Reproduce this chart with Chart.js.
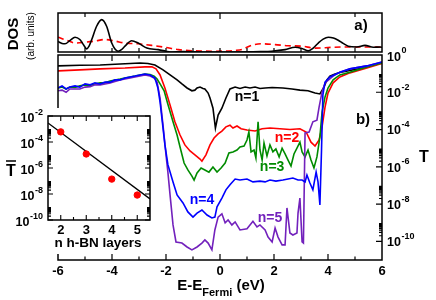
<!DOCTYPE html>
<html>
<head>
<meta charset="utf-8">
<script src="https://cdn.jsdelivr.net/npm/chart.js"></script>
<style>
html,body{margin:0;padding:0;background:#fff;overflow:hidden;}
#wrap{position:relative;width:436px;height:300px;background:#fff;}
canvas{position:absolute;left:0;}
</style>
</head>
<body>
<div id="wrap">
<canvas id="mainC" width="436" height="300" style="top:0"></canvas>
<canvas id="dosC" width="436" height="66" style="top:0"></canvas>
<canvas id="insetC" width="156" height="146" style="top:108px;background:#fff"></canvas>
</div>
<script>
// ---------- DATA ----------
// panel a) DOS (arb. units)
const dosTotE = [-6.00,-5.85,-5.74,-5.55,-5.37,-5.19,-5.05,-4.94,-4.85,-4.75,-4.57,-4.38,-4.20,-4.01,-3.89,-3.77,-3.65,-3.52,-3.27,-3.03,-2.71,-2.29,-2.00,-1.85,-1.37,-0.50,0.50,1.50,1.91,2.41,2.78,3.03,3.27,3.45,3.64,3.82,4.01,4.20,4.38,4.56,4.75,5.06,5.37,5.68,5.93,6.00];
const dosTot  = [0.27,0.22,0.21,0.30,0.38,0.32,0.18,0.08,0.15,0.32,0.66,0.83,0.66,0.23,0.08,0.02,0.06,0.15,0.29,0.23,0.10,0.06,0.02,0.00,0.01,0.00,0.00,0.01,0.02,0.06,0.12,0.09,0.03,0.10,0.23,0.33,0.38,0.36,0.30,0.22,0.15,0.13,0.17,0.12,0.13,0.12];
const dosBNE  = [-6.00,-5.80,-5.60,-5.37,-5.00,-4.63,-4.26,-3.89,-3.52,-3.03,-2.53,-2.04,-1.54,-0.93,-0.19,0.56,0.85,1.00,1.17,1.54,2.04,2.53,3.03,3.52,4.14,4.75,5.37,6.00];
const dosBN   = [0.38,0.33,0.28,0.23,0.25,0.28,0.32,0.28,0.23,0.21,0.17,0.12,0.06,0.03,0.02,0.04,0.07,0.12,0.17,0.21,0.19,0.16,0.15,0.10,0.12,0.13,0.13,0.12];

// panel b) transmission T(E)
const n1E = [-6.00,-5.19,-4.44,-3.70,-2.96,-2.67,-2.41,-2.11,-1.85,-1.59,-1.41,-1.22,-1.04,-0.93,-0.85,-0.74,-0.63,-0.56,-0.44,-0.37,-0.26,-0.17,-0.07,0.07,0.22,0.37,0.56,0.74,0.93,1.11,1.30,1.48,1.67,1.93,2.33,2.67,2.96,3.26,3.52,3.70,3.85,3.96,4.07,4.26,4.44,4.81,5.19,5.56,6.00];
const n1T = [2.6e-1,2.8e-1,2.9e-1,3.3e-1,3.7e-1,3.5e-1,2.9e-1,1.6e-1,8.5e-2,4.6e-2,2.8e-2,1.7e-2,1.2e-2,1.3e-2,1.7e-2,1.9e-2,1.6e-2,1.5e-2,9.1e-3,4.9e-3,1.4e-3,1.2e-4,6.0e-4,1.4e-3,4.9e-3,1.5e-2,1.9e-2,1.6e-2,1.9e-2,1.7e-2,1.9e-2,1.6e-2,1.7e-2,1.8e-2,1.7e-2,1.5e-2,1.3e-2,1.2e-2,9.1e-3,8.1e-3,1.9e-2,4.6e-2,7.4e-2,9.5e-2,1.15e-1,1.5e-1,1.9e-1,2.6e-1,3.7e-1];

const n2E = [-6.00,-5.19,-4.44,-3.52,-2.78,-2.52,-2.37,-2.22,-2.04,-1.85,-1.67,-1.48,-1.30,-1.11,-0.93,-0.74,-0.67,-0.52,-0.37,-0.22,-0.07,0.07,0.22,0.37,0.48,0.63,0.78,1.00,1.30,1.56,1.85,2.22,2.59,2.96,3.19,3.37,3.52,3.67,3.78,3.89,4.00,4.19,4.44,4.81,5.44,6.00];
const n2T = [1.4e-1,1.6e-1,1.8e-1,2.0e-1,2.3e-1,2.3e-1,1.8e-1,8.5e-2,1.7e-2,2.1e-3,2.6e-4,5.1e-5,1.5e-5,7.1e-6,4.4e-6,2.6e-6,2.0e-6,4.4e-6,1.5e-5,3.5e-5,5.8e-5,8.3e-5,1.4e-4,1.7e-4,1.2e-4,1.55e-4,1.1e-4,9.5e-5,8.3e-5,1.1e-4,1.2e-4,1.1e-4,1.0e-4,1.1e-4,7.4e-5,2.1e-5,1.3e-5,2.75e-5,1.4e-4,1.6e-3,9.1e-3,3.2e-2,6.6e-2,1.1e-1,2.0e-1,3.5e-1];

const n3E = [-6.00,-5.85,-5.70,-5.56,-5.37,-5.19,-5.00,-4.81,-4.63,-4.44,-4.26,-4.07,-3.89,-3.70,-3.52,-3.33,-3.15,-2.96,-2.78,-2.59,-2.44,-2.33,-2.22,-2.07,-1.93,-1.74,-1.59,-1.48,-1.33,-1.19,-1.04,-0.96,-0.85,-0.70,-0.56,-0.41,-0.26,-0.11,0.04,0.19,0.33,0.48,0.63,0.74,0.89,1.00,1.07,1.15,1.26,1.33,1.41,1.48,1.56,1.63,1.74,1.85,1.96,2.07,2.19,2.30,2.41,2.52,2.63,2.74,2.85,2.96,3.04,3.15,3.26,3.37,3.48,3.59,3.70,3.78,3.89,4.00,4.19,4.44,4.81,5.44,6.00];
const n3T = [1.7e-2,1.9e-2,1.5e-2,1.9e-2,1.8e-2,2.2e-2,2.5e-2,2.3e-2,2.8e-2,3.2e-2,3.2e-2,4.0e-2,4.6e-2,5.1e-2,5.8e-2,6.6e-2,7.4e-2,8.5e-2,9.5e-2,9.0e-2,7.4e-2,5.1e-2,2.8e-2,1.2e-2,2.3e-3,2.6e-4,5.1e-5,1.15e-5,1.6e-6,6.8e-7,3.2e-7,1.95e-7,4.7e-7,8.7e-7,6.8e-7,5.2e-7,9.8e-7,5.2e-7,8.7e-7,1.6e-6,5.5e-6,6.3e-6,8.0e-6,1.15e-5,1.3e-5,2.75e-5,7.4e-5,6.3e-6,8.0e-6,3.0e-6,2.6e-4,8.0e-6,2.3e-6,1.9e-5,3.8e-6,1.5e-5,6.3e-6,9.1e-6,3.4e-6,1.0e-5,4.9e-6,2.3e-6,1.1e-6,4.9e-6,1.0e-5,2.1e-5,6.3e-6,3.4e-6,8.0e-6,2.3e-6,8.7e-7,3.4e-6,4.0e-5,8.7e-4,5.6e-3,1.7e-2,4.6e-2,8.5e-2,1.2e-1,2.3e-1,3.7e-1];

const n4E = [-6.00,-5.85,-5.70,-5.56,-5.37,-5.19,-5.00,-4.81,-4.63,-4.44,-4.26,-4.07,-3.89,-3.70,-3.52,-3.33,-3.15,-2.96,-2.78,-2.59,-2.41,-2.30,-2.22,-2.11,-2.04,-1.93,-1.74,-1.59,-1.37,-1.19,-1.00,-0.85,-0.67,-0.48,-0.30,-0.19,-0.11,0.07,0.22,0.37,0.56,0.74,1.00,1.22,1.48,1.67,1.85,2.07,2.33,2.52,2.70,2.89,3.04,3.15,3.22,3.33,3.44,3.56,3.63,3.70,3.76,3.81,3.89,4.07,4.44,4.81,5.44,6.00];
const n4T = [1.7e-2,2.2e-2,1.5e-2,1.9e-2,2.2e-2,1.9e-2,2.8e-2,2.5e-2,3.2e-2,2.8e-2,3.5e-2,3.5e-2,4.6e-2,4.6e-2,5.8e-2,6.6e-2,7.4e-2,8.5e-2,9.5e-2,8.5e-2,5.8e-2,1.7e-2,3.0e-3,1.2e-4,1.5e-5,1.3e-6,1.55e-7,3.1e-8,1.15e-8,3.8e-9,2.0e-9,3.3e-9,4.8e-9,2.6e-9,1.8e-9,2.0e-9,7.1e-9,2.1e-8,5.8e-8,1.1e-7,2.2e-7,1.95e-7,2.2e-7,1.55e-7,1.7e-7,1.55e-7,1.95e-7,1.7e-7,1.95e-7,2.2e-7,2.5e-7,1.95e-7,1.95e-7,1.55e-7,3.6e-7,1.35e-7,5.8e-8,5.2e-7,1.55e-7,8.9e-9,8.0e-6,7.1e-3,3.5e-2,6.6e-2,1.2e-1,1.8e-1,2.6e-1,4.2e-1];

const n5E = [-6.00,-5.85,-5.70,-5.56,-5.37,-5.19,-5.00,-4.81,-4.63,-4.44,-4.26,-4.07,-3.89,-3.70,-3.52,-3.33,-3.15,-2.96,-2.78,-2.59,-2.44,-2.33,-2.22,-2.11,-2.00,-1.93,-1.85,-1.74,-1.63,-1.41,-1.22,-1.04,-0.85,-0.67,-0.56,-0.44,-0.30,-0.19,-0.07,0.07,0.19,0.30,0.44,0.56,0.74,1.00,1.22,1.37,1.48,1.67,1.78,1.93,2.04,2.15,2.30,2.41,2.48,2.59,2.70,2.85,2.89,2.96,3.04,3.09,3.15,3.30,3.44,3.59,3.67,3.78,3.89,4.19,4.44,4.81,5.44,6.00];
const n5T = [1.2e-2,1.3e-2,1.0e-2,1.5e-2,1.5e-2,1.5e-2,1.9e-2,2.0e-2,2.5e-2,2.5e-2,2.8e-2,3.2e-2,3.8e-2,4.6e-2,5.1e-2,5.8e-2,6.6e-2,7.4e-2,8.5e-2,7.4e-2,5.8e-2,3.5e-2,4.9e-3,1.7e-4,4.4e-6,5.2e-7,3.1e-8,7.6e-10,9.3e-11,8.1e-11,5.0e-11,3.5e-11,5.0e-11,8.1e-11,1.2e-10,8.1e-11,3.5e-11,4.1e-10,2.0e-9,3.0e-9,9.8e-10,1.4e-9,7.6e-10,1.1e-9,4.1e-10,4.7e-10,1.2e-9,5.9e-10,7.6e-10,4.1e-10,1.7e-10,9.3e-11,5.2e-10,1.7e-10,6.5e-11,6.5e-11,6.2e-9,2.8e-10,2.2e-10,2.8e-10,3.3e-9,2.1e-8,9.3e-11,8.1e-11,6.6e-5,7.4e-5,2.6e-4,3.2e-4,1.6e-3,1.05e-2,3.2e-2,7.4e-2,1.2e-1,1.8e-1,2.6e-1,4.2e-1];

// inset: mean transmission vs number of h-BN layers
const nLayers = [2, 3, 4, 5];
const meanT   = [6.0e-4, 1.2e-5, 1.4e-7, 8.3e-9];
const fitN    = [1.5, 5.5];
const fitT    = [2.9e-3, 4.2e-9];

// tick labels
const xTickLabels   = [-6, -4, -2, 0, 2, 4, 6];
const tTickExps     = [0, -2, -4, -6, -8, -10];
const insetXLabels  = [2, 3, 4, 5];
const insetTExps    = [-2, -4, -6, -8, -10];

// curve labels (in data coordinates)
const curveLabels = [
  {text: 'n=1', E: 1.0,  T: 5.6e-3, color: '#000000'},
  {text: 'n=2', E: 2.48, T: 3.5e-5, color: '#ff0000'},
  {text: 'n=3', E: 1.93, T: 9.8e-7, color: '#008b00'},
  {text: 'n=4', E: -0.67, T: 1.7e-8, color: '#0000ff'},
  {text: 'n=5', E: 1.85, T: 1.8e-9, color: '#7221bc'}
];

// ---------- DRAWING ----------
const F = '"Liberation Sans", Arial, Helvetica, sans-serif';
const pts = (xs, ys) => xs.map((x, i) => ({x: x, y: ys[i]}));

function pow10(ctx, x, y, exp, base, sup, align) {
  const es = String(exp);
  ctx.font = 'bold ' + base + 'px ' + F;
  const w1 = ctx.measureText('10').width;
  ctx.font = 'bold ' + sup + 'px ' + F;
  const w2 = ctx.measureText(es).width;
  const x0 = align === 'right' ? x - w1 - w2 - 0.5 : x;
  ctx.textAlign = 'left';
  ctx.textBaseline = 'middle';
  ctx.font = 'bold ' + base + 'px ' + F;
  ctx.fillText('10', x0, y);
  ctx.font = 'bold ' + sup + 'px ' + F;
  ctx.fillText(es, x0 + w1 + 0.5, y - base * 0.52);
}

const mainDeco = {
  id: 'mainDeco',
  afterDraw(chart) {
    const ctx = chart.ctx, a = chart.chartArea, xs = chart.scales.x, ys = chart.scales.y;
    ctx.save();
    ctx.strokeStyle = '#000';
    ctx.lineWidth = 1.5;
    ctx.strokeRect(a.left, a.top, a.right - a.left, a.bottom - a.top);
    ctx.lineWidth = 1.2;
    ctx.beginPath();
    for (let e = -5; e <= 5; e++) {
      const px = xs.getPixelForValue(e), len = (e % 2 === 0) ? 6 : 3.5;
      ctx.moveTo(px, a.bottom); ctx.lineTo(px, a.bottom - len);
      ctx.moveTo(px, a.top); ctx.lineTo(px, a.top + len);
    }
    for (const k of tTickExps) {
      if (k === 0) continue;
      const py = ys.getPixelForValue(Math.pow(10, k));
      ctx.moveTo(a.right, py); ctx.lineTo(a.right - 6, py);
      for (let m = 2; m <= 9; m++) {
        const pm = ys.getPixelForValue(m * Math.pow(10, k));
        ctx.moveTo(a.right, pm); ctx.lineTo(a.right - 3, pm);
      }
    }
    ctx.stroke();

    ctx.fillStyle = '#000';
    for (const k of tTickExps) {
      let py = ys.getPixelForValue(Math.pow(10, k)) + 1.5;
      if (k === 0) py = a.top + 2.5;
      pow10(ctx, a.right + 5, py, k, 12.5, 9, 'left');
    }
    // right axis title
    ctx.font = 'bold 16px ' + F;
    ctx.textAlign = 'center'; ctx.textBaseline = 'middle';
    ctx.fillText('T', 424, 158);

    // x axis title with subscript
    const f1 = 'bold 15px ' + F, f2 = 'bold 11px ' + F;
    ctx.font = f1;
    const w1 = ctx.measureText('E-E').width, w3 = ctx.measureText(' (eV)').width;
    ctx.font = f2;
    const w2 = ctx.measureText('Fermi').width;
    let x0 = (a.left + a.right) / 2 + 1 - (w1 + w2 + w3) / 2;
    ctx.textAlign = 'left'; ctx.textBaseline = 'alphabetic';
    ctx.font = f1; ctx.fillText('E-E', x0, 290);
    ctx.font = f2; ctx.fillText('Fermi', x0 + w1, 296);
    ctx.font = f1; ctx.fillText(' (eV)', x0 + w1 + w2, 290);

    // curve labels
    ctx.textAlign = 'center'; ctx.textBaseline = 'middle';
    ctx.font = 'bold 14px ' + F;
    for (const l of curveLabels) {
      ctx.fillStyle = l.color;
      ctx.fillText(l.text, xs.getPixelForValue(l.E), ys.getPixelForValue(l.T));
    }
    ctx.fillStyle = '#000';
    ctx.font = 'bold 15px ' + F;
    ctx.fillText('b)', 363, 120);

    // DOS axis titles (left of panel a)
    ctx.save();
    ctx.translate(14, 34); ctx.rotate(-Math.PI / 2);
    ctx.font = 'bold 15px ' + F;
    ctx.fillText('DOS', 0, 0);
    ctx.restore();
    ctx.save();
    ctx.translate(31, 36); ctx.rotate(-Math.PI / 2);
    ctx.font = '10px ' + F;
    ctx.fillText('(arb. units)', 0, 0);
    ctx.restore();
    ctx.restore();
  }
};

function ds(label, E, T, color, order) {
  return {label: label, data: pts(E, T), borderColor: color, backgroundColor: color,
          borderWidth: 1.6, pointRadius: 0, tension: 0, fill: false, order: order};
}

new Chart(document.getElementById('mainC'), {
  type: 'line',
  data: {datasets: [
    ds('n=1', n1E, n1T, '#000000', 4),
    ds('n=2', n2E, n2T, '#ff0000', 3),
    ds('n=3', n3E, n3T, '#008b00', 2),
    ds('n=4', n4E, n4T, '#0000ff', 0),
    ds('n=5', n5E, n5T, '#7221bc', 1)
  ]},
  options: {
    responsive: false, animation: false, devicePixelRatio: 1,
    layout: {padding: {left: 58, top: 55, right: 0, bottom: 0}},
    plugins: {legend: {display: false}, tooltip: {enabled: false}},
    scales: {
      x: {type: 'linear', min: -6, max: 6, position: 'bottom',
          grid: {display: false, drawTicks: false}, border: {display: false},
          ticks: {font: {family: F, size: 13, weight: 'bold'}, color: '#000', padding: 4, maxRotation: 0, autoSkip: false},
          afterBuildTicks: s => { s.ticks = xTickLabels.map(v => ({value: v})); },
          afterFit: s => { s.height = 40; s.paddingLeft = 0; s.paddingRight = 0; }},
      y: {type: 'logarithmic', min: 1e-11, max: 1, position: 'right',
          grid: {display: false, drawTicks: false}, border: {display: false},
          ticks: {display: false},
          afterFit: s => { s.width = 54; }}
    }
  },
  plugins: [mainDeco]
});

// DOS panel
const dosDeco = {
  id: 'dosDeco',
  afterDraw(chart) {
    const ctx = chart.ctx, a = chart.chartArea, xs = chart.scales.x;
    ctx.save();
    ctx.strokeStyle = '#000'; ctx.lineWidth = 1.5;
    ctx.strokeRect(a.left, a.top, a.right - a.left, a.bottom - a.top);
    ctx.lineWidth = 1.2;
    ctx.beginPath();
    for (let e = -5; e <= 5; e++) {
      const px = xs.getPixelForValue(e);
      ctx.moveTo(px, a.bottom); ctx.lineTo(px, a.bottom - 4);
      if (e === -5 || e === 0 || e === 5) {
        ctx.moveTo(px, a.top); ctx.lineTo(px, a.top + (e === 0 ? 6 : 4));
      }
    }
    ctx.stroke();
    ctx.fillStyle = '#000';
    ctx.textAlign = 'center'; ctx.textBaseline = 'middle';
    ctx.font = 'bold 15px ' + F;
    ctx.fillText('a)', 361, 26);
    ctx.restore();
  }
};

new Chart(document.getElementById('dosC'), {
  type: 'line',
  data: {datasets: [
    {label: 'total', data: pts(dosTotE, dosTot), borderColor: '#000', borderWidth: 1.6, pointRadius: 0, tension: 0.35, cubicInterpolationMode: 'monotone', order: 0},
    {label: 'h-BN', data: pts(dosBNE, dosBN), borderColor: '#ff0000', borderWidth: 1.6, borderDash: [6, 4], pointRadius: 0, tension: 0.35, cubicInterpolationMode: 'monotone', order: 1}
  ]},
  options: {
    responsive: false, animation: false, devicePixelRatio: 1,
    layout: {padding: {left: 58, top: 13, right: 54, bottom: 14}},
    plugins: {legend: {display: false}, tooltip: {enabled: false}},
    scales: {
      x: {type: 'linear', min: -6, max: 6, display: false},
      y: {type: 'linear', min: 0, max: 1, display: false}
    }
  },
  plugins: [dosDeco]
});

// inset
const insetDeco = {
  id: 'insetDeco',
  afterDraw(chart) {
    const ctx = chart.ctx, a = chart.chartArea, xs = chart.scales.x, ys = chart.scales.y;
    ctx.save();
    ctx.strokeStyle = '#000'; ctx.lineWidth = 1.5;
    ctx.strokeRect(a.left, a.top, a.right - a.left, a.bottom - a.top);
    ctx.lineWidth = 1.1;
    ctx.beginPath();
    for (let v = 2; v < 5.5; v += 0.5) {
      const px = xs.getPixelForValue(v), len = Number.isInteger(v) ? 5 : 3;
      ctx.moveTo(px, a.bottom); ctx.lineTo(px, a.bottom - len);
      ctx.moveTo(px, a.top); ctx.lineTo(px, a.top + len);
    }
    for (const k of insetTExps) {
      const py = ys.getPixelForValue(Math.pow(10, k));
      ctx.moveTo(a.left, py); ctx.lineTo(a.left + 5, py);
      ctx.moveTo(a.right, py); ctx.lineTo(a.right - 5, py);
      if (k === -2) continue;
      for (let m = 2; m <= 9; m++) {
        const pm = ys.getPixelForValue(m * Math.pow(10, k));
        ctx.moveTo(a.left, pm); ctx.lineTo(a.left + 3, pm);
        ctx.moveTo(a.right, pm); ctx.lineTo(a.right - 3, pm);
      }
    }
    ctx.stroke();
    ctx.fillStyle = '#000';
    for (const k of insetTExps) {
      const py = ys.getPixelForValue(Math.pow(10, k)) + 3;
      pow10(ctx, a.left - 5, py, k, 12.5, 9, 'right');
    }
    ctx.textAlign = 'center'; ctx.textBaseline = 'middle';
    ctx.font = 'bold 13.5px ' + F;
    ctx.fillText('n h-BN layers', 98, 135);
    // T-bar title
    ctx.font = 'bold 16px ' + F;
    ctx.fillText('T', 11, 64);
    ctx.lineWidth = 1.5;
    ctx.beginPath(); ctx.moveTo(6, 53); ctx.lineTo(16, 53); ctx.stroke();
    ctx.restore();
  }
};

new Chart(document.getElementById('insetC'), {
  type: 'scatter',
  data: {datasets: [
    {label: 'mean T', data: pts(nLayers, meanT), pointRadius: 3.2, pointBackgroundColor: '#ff0000', pointBorderColor: '#ff0000', showLine: false, order: 0},
    {label: 'fit', data: pts(fitN, fitT), borderColor: '#000', borderWidth: 1.3, pointRadius: 0, showLine: true, order: 1}
  ]},
  options: {
    responsive: false, animation: false, devicePixelRatio: 1,
    layout: {padding: {left: 48, top: 8, right: 6, bottom: 0}},
    plugins: {legend: {display: false}, tooltip: {enabled: false}},
    scales: {
      x: {type: 'linear', min: 1.5, max: 5.5, position: 'bottom',
          grid: {display: false, drawTicks: false}, border: {display: false},
          ticks: {font: {family: F, size: 13, weight: 'bold'}, color: '#000', padding: 3, maxRotation: 0, autoSkip: false},
          afterBuildTicks: s => { s.ticks = insetXLabels.map(v => ({value: v})); },
          afterFit: s => { s.height = 34; s.paddingLeft = 0; s.paddingRight = 0; }},
      y: {type: 'logarithmic', min: 1e-10, max: 1e-2, display: false}
    }
  },
  plugins: [insetDeco]
});
</script>
</body>
</html>
